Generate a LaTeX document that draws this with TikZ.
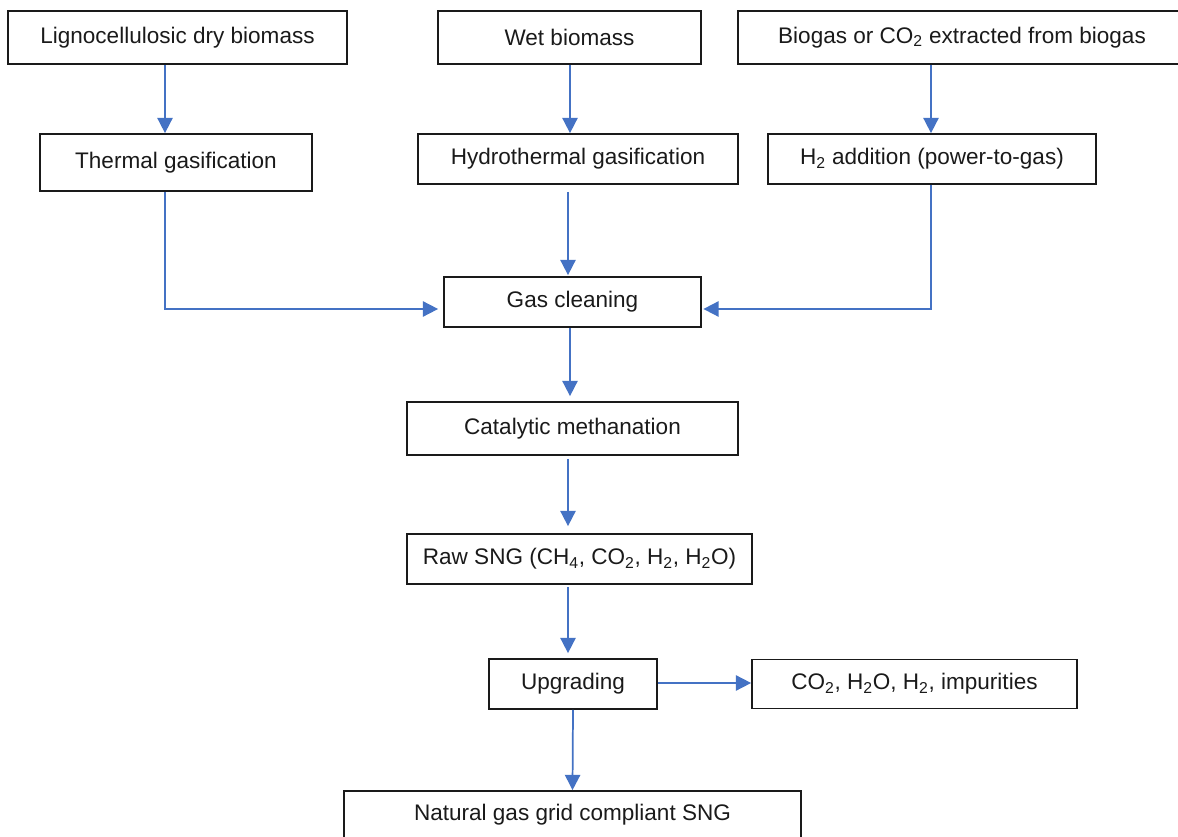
\documentclass[tikz,border=0pt]{standalone}
\usepackage{fontspec}
\setmainfont{Liberation Sans}
\usetikzlibrary{arrows.meta,calc}
\definecolor{arrblue}{HTML}{4472C4}
\definecolor{boxline}{HTML}{1A1A1A}
\definecolor{txt}{HTML}{1A1A1A}
\begin{document}
\begin{tikzpicture}[x=0.75pt,y=-0.75pt,
  procbox/.style={draw=boxline,line width=1.3pt,inner sep=0pt,text=txt,
    font=\fontsize{16.9}{19}\selectfont,align=center},
  arr/.style={draw=arrblue,line width=1.3pt,-{Triangle[length=11.5pt,width=11.5pt]}}]
\useasboundingbox (0,0) rectangle (1178,837);
\clip (0,0) rectangle (1178,837);
\fill[white] (0,0) rectangle (1178,837);
% nodes
\node[procbox,minimum width=339*0.75pt,minimum height=53*0.75pt] (n1) at (177.5,37.5) {Lignocellulosic dry biomass};
\node[procbox,minimum width=263*0.75pt,minimum height=53*0.75pt] (n2) at (569.5,37.5) {Wet biomass};
\node[procbox,minimum width=448*0.75pt,minimum height=53*0.75pt] (n3) at (962,37.5) {Biogas or CO\textsubscript{2} extracted from biogas};
\node[procbox,minimum width=272*0.75pt,minimum height=57*0.75pt] (n4) at (176,162.5) {Thermal gasification};
\node[procbox,minimum width=320*0.75pt,minimum height=50*0.75pt] (n5) at (578,159) {Hydrothermal gasification};
\node[procbox,minimum width=328*0.75pt,minimum height=50*0.75pt] (n6) at (932,159) {H\textsubscript{2} addition (power-to-gas)};
\node[procbox,minimum width=257*0.75pt,minimum height=50*0.75pt] (n7) at (572.5,302) {Gas cleaning};
\node[procbox,minimum width=331*0.75pt,minimum height=53*0.75pt] (n8) at (572.5,428.5) {Catalytic methanation};
\node[procbox,minimum width=345*0.75pt,minimum height=50*0.75pt] (n9) at (579.5,559) {Raw SNG (CH\textsubscript{4}, CO\textsubscript{2}, H\textsubscript{2}, H\textsubscript{2}O)};
\node[procbox,minimum width=168*0.75pt,minimum height=50*0.75pt] (n10) at (573,684) {Upgrading};
\node[procbox,minimum width=325*0.75pt,minimum height=49*0.75pt] (n11) at (914.5,684) {CO\textsubscript{2}, H\textsubscript{2}O, H\textsubscript{2}, impurities};
\node[procbox,minimum width=457*0.75pt,minimum height=48*0.75pt] (n12) at (572.5,815) {Natural gas grid compliant SNG};
% connectors
\draw[arr] ($(n1.south)+(-12.5,0)$) -- ($(n4.north)+(-11,0)$);
\draw[arr] ($(n2.south)+(0.5,0)$) -- ($(n5.north)+(-8,0)$);
\draw[arr] ($(n3.south)+(-31,0)$) -- ($(n6.north)+(-1,0)$);
\draw[arr] ($(n4.south)+(-11,0)$) |- ($(n7.west)+(-5,7)$);
\draw[arr] ($(n5.south)+(-10,7)$) -- ($(n7.north)+(-4.5,-1)$);
\draw[arr] ($(n6.south)+(-1,0)$) |- ($(n7.east)+(1.5,7)$);
\draw[arr] ($(n7.south)+(-2.5,0)$) -- ($(n8.north)+(-2.5,-5)$);
\draw[arr] ($(n8.south)+(-4.5,3)$) -- ($(n9.north)+(-11.5,-7)$);
\draw[arr] ($(n9.south)+(-11.5,2)$) -- ($(n10.north)+(-5,-5)$);
\draw[arr] ($(n10.east)+(0,-1)$) -- ($(n11.west)+(0,-1)$);
\draw[arr] (n10.south) -- (n12.north);
\end{tikzpicture}
\end{document}
